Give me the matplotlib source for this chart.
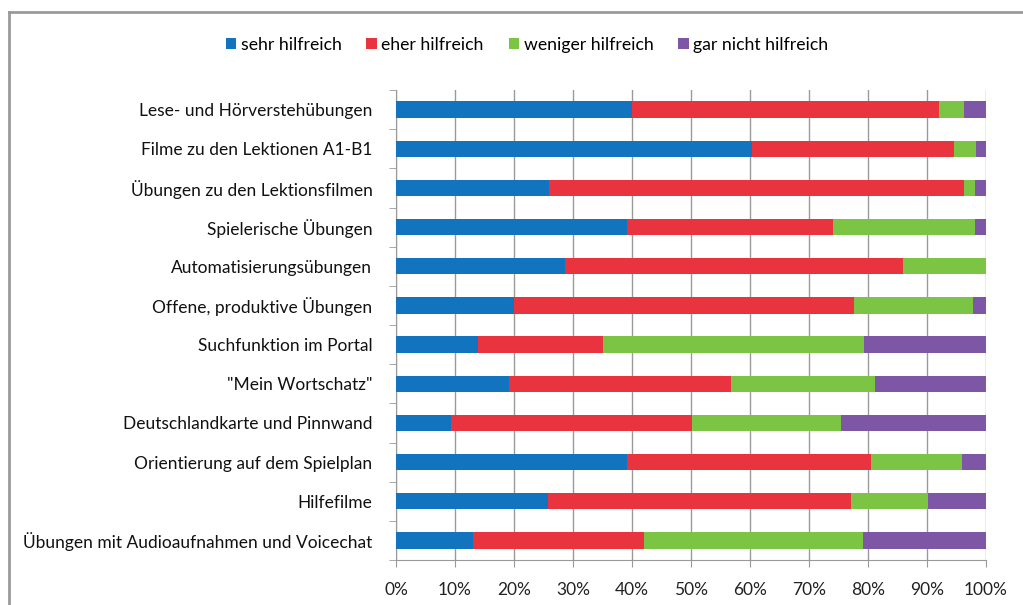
import matplotlib
matplotlib.use("Agg")
import matplotlib.pyplot as plt
from matplotlib.patches import Patch
from matplotlib.lines import Line2D
import numpy as np

plt.rcParams['font.family'] = ['Lato', 'DejaVu Sans']

categories = [
    "Lese- und Hörverstehübungen",
    "Filme zu den Lektionen A1-B1",
    "Übungen zu den Lektionsfilmen",
    "Spielerische Übungen",
    "Automatisierungsübungen",
    "Offene, produktive Übungen",
    "Suchfunktion im Portal",
    "\"Mein Wortschatz\"",
    "Deutschlandkarte und Pinnwand",
    "Orientierung auf dem Spielplan",
    "Hilfefilme",
    "Übungen mit Audioaufnahmen und Voicechat",
]
series_names = ["sehr hilfreich", "eher hilfreich", "weniger hilfreich", "gar nicht hilfreich"]
sehr = [40.0, 60.3, 25.9, 39.2, 28.7, 20.0, 13.9, 19.1, 9.4, 39.2, 25.7, 13.1]
eher = [52.1, 34.3, 70.3, 34.8, 57.2, 57.7, 21.1, 37.7, 40.7, 41.3, 51.5, 29.0]
weniger = [4.2, 3.7, 2.0, 24.1, 14.1, 20.1, 44.4, 24.4, 25.3, 15.4, 13.0, 37.1]
gar_nicht = [3.7, 1.7, 1.8, 1.9, 0.0, 2.2, 20.6, 18.8, 24.6, 4.1, 9.8, 20.8]
xtick_labels = ["0%", "10%", "20%", "30%", "40%", "50%", "60%", "70%", "80%", "90%", "100%"]

colors = ["#1273BE", "#E9343F", "#7CC443", "#7D56A6"]

W, H = 1023, 605
fig = plt.figure(figsize=(W / 100, H / 100), dpi=100)
fig.patch.set_facecolor("white")
ax = fig.add_axes([396 / W, 1 - 560 / H, (986 - 396) / W, (560 - 90) / H])

y = np.arange(len(categories))
left = np.zeros(len(categories))
for vals, c in zip([sehr, eher, weniger, gar_nicht], colors):
    v = np.array(vals)
    ax.barh(y, v, left=left, height=0.42, color=c, edgecolor="none", zorder=3)
    left += v

ax.set_xlim(0, 100)
ax.set_ylim(len(categories) - 0.5, -0.5)
ax.set_xticks(np.arange(0, 101, 10))
ax.set_xticklabels(xtick_labels, fontsize=12.5, color="#222222")
ax.set_yticks(y)
ax.set_yticklabels(categories, fontsize=12.5, color="#111111")
ax.tick_params(axis="y", length=0, pad=17)
ax.tick_params(axis="x", length=5, color="#999999", pad=11, direction="out")
# y-axis boundary ticks
ax.set_yticks(np.arange(-0.5, len(categories) + 0.5, 1), minor=True)
ax.tick_params(axis="y", which="minor", length=5, color="#999999", direction="out")

ax.grid(axis="x", color="#9a9a9a", linewidth=1.0, zorder=0)
for s in ["top", "right"]:
    ax.spines[s].set_visible(False)
ax.spines["left"].set_color("#999999")
ax.spines["bottom"].set_color("#999999")

handles = [Patch(facecolor=c, edgecolor="none") for c in colors]
fig.legend(handles, series_names, loc="center", bbox_to_anchor=(527 / W, 1 - 45 / H),
           ncol=4, frameon=False, fontsize=12.7, handlelength=0.6, handleheight=0.6,
           handletextpad=0.25, columnspacing=1.4)

# outer frame (left and top)
fig.add_artist(Line2D([9 / W, 9 / W], [0, 1 - 12 / H], transform=fig.transFigure,
                      color="#9a9a9a", linewidth=2))
fig.add_artist(Line2D([9 / W, 1], [1 - 12 / H, 1 - 12 / H], transform=fig.transFigure,
                      color="#9a9a9a", linewidth=2))

fig.savefig("out.png", dpi=100)
